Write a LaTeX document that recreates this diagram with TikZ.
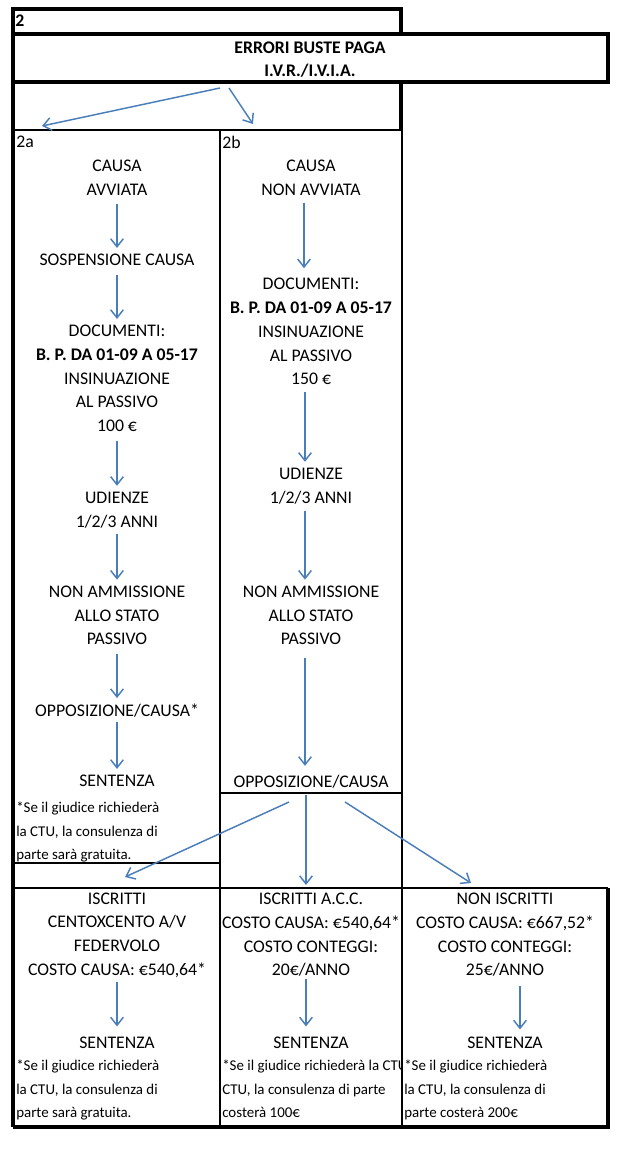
\documentclass[tikz,border=0pt]{standalone}
\usepackage{fontspec}
\setmainfont{Carlito}
\usetikzlibrary{arrows.meta}

\definecolor{flowblue}{HTML}{4A7EBB}

\tikzset{
  cell/.style={align=center, inner sep=0pt, font=\fontsize{13.3}{17.8}\selectfont},
  headcell/.style={cell, font=\fontsize{13.3}{17.6}\selectfont\bfseries},
  note/.style={align=left, anchor=north west, inner sep=0pt, font=\fontsize{11.2}{17.6}\selectfont},
  flow/.style={draw=flowblue, line width=1.1pt, -{Straight Barb[length=6pt,width=9.5pt]},
    shorten <=6.5pt, shorten >=4.5pt},
  gap/.style 2 args={shorten <=#1pt, shorten >=#2pt},
  heavy/.style={line width=3pt},
  medium/.style={line width=1.6pt},
  light/.style={line width=1pt},
}

\begin{document}
\begin{tikzpicture}[x=0.75pt,y=-0.75pt]
\useasboundingbox (0,0) rectangle (627,1149);

% table lines
\draw[heavy] (13,9) rectangle (401,34);
\draw[heavy] (13,34) rectangle (608,82);
\draw[heavy] (13,82) -- (13,1127) (401,82) -- (401,130);
\draw[medium] (13,130) -- (402,130);
\draw[light] (220,130) -- (220,1127) (402,130) -- (402,1127);
\draw[light] (220,793) -- (402,793) (13,863) -- (220,863);
\draw[medium] (13,888) -- (608,888);
\draw[heavy] (608,888) -- (608,1127) -- (13,1127);

% header
\node[headcell, anchor=west] (num) at (15,21) {2};
\node[headcell] (title) at (310,59.5) {ERRORI BUSTE PAGA\\I.V.R./I.V.I.A.};
\node[cell, anchor=west] (lab2a) at (16,142) {2a};
\node[cell, anchor=west] (lab2b) at (222,142) {2b};

% column 2a
\node[cell] (a1) at (117,177.75) {CAUSA\\AVVIATA};
\node[cell] (a2) at (117,260) {SOSPENSIONE CAUSA};
\node[cell] (a3) at (117,378.5) {DOCUMENTI:\\\textbf{B. P. DA 01-09 A 05-17}\\INSINUAZIONE\\AL PASSIVO\\100 €};
\node[cell] (a4) at (117,510) {UDIENZE\\1/2/3 ANNI};
\node[cell] (a5) at (117,615.5) {NON AMMISSIONE\\ALLO STATO\\PASSIVO};
\node[cell] (a6) at (117,711) {OPPOSIZIONE/CAUSA*};
\node[cell] (a7) at (117,781) {SENTENZA};
\node[note] (a8) at (16,802) {*Se il giudice richiederà\\la CTU, la consulenza di\\parte sarà gratuita.};

% column 2b
\node[cell] (b1) at (311,177.75) {CAUSA\\NON AVVIATA};
\node[cell] (b2) at (311,331.75) {DOCUMENTI:\\\textbf{B. P. DA 01-09 A 05-17}\\INSINUAZIONE\\AL PASSIVO\\150 €};
\node[cell] (b3) at (311,486) {UDIENZE\\1/2/3 ANNI};
\node[cell] (b4) at (311,615.5) {NON AMMISSIONE\\ALLO STATO\\PASSIVO};
\node[cell] (b5) at (311,782) {OPPOSIZIONE/CAUSA};

% bottom row
\node[cell] (c1) at (117,935) {ISCRITTI\\CENTOXCENTO A/V\\FEDERVOLO\\COSTO CAUSA: €540,64*};
\node[cell] (c2) at (117,1042.5) {SENTENZA};
\node[note] (c3) at (16,1060) {*Se il giudice richiederà\\la CTU, la consulenza di\\parte sarà gratuita.};
\node[cell] (d1) at (311,935) {ISCRITTI A.C.C.\\COSTO CAUSA: €540,64*\\COSTO CONTEGGI:\\20€/ANNO};
\node[cell] (d2) at (311,1042.5) {SENTENZA};
\begin{scope}
  \clip (221,1050) rectangle (401.5,1125);
  \node[note] (d3) at (222,1060) {*Se il giudice richiederà la CTU\\CTU, la consulenza di parte\\costerà 100€};
\end{scope}
\node[cell] (e1) at (505,935) {NON ISCRITTI\\COSTO CAUSA: €667,52*\\COSTO CONTEGGI:\\25€/ANNO};
\node[cell] (e2) at (505,1042.5) {SENTENZA};
\node[note] (e3) at (404,1060) {*Se il giudice richiederà\\la CTU, la consulenza di\\parte costerà 200€};

% fork ends
\coordinate (forkA) at (220,88);
\coordinate (forkB) at (229,88);
\coordinate (tipA) at (42,126);
\coordinate (tipB) at (253,124);
\coordinate (brA) at (289,802);
\coordinate (brB) at (306,795);
\coordinate (brC) at (345,802);
\coordinate (tipC) at (125,877);
\coordinate (tipD) at (306,885);
\coordinate (tipE) at (471,883);

% arrows
\draw[flow, gap={0}{0}] (forkA) -- (tipA);
\draw[flow, gap={0}{0}] (forkB) -- (tipB);

\draw[flow] (a1.south) -- (a2.north);
\draw[flow] (a2.south) -- (a3.north);
\draw[flow] (a3.south) -- (a4.north);
\draw[flow, gap={4}{4.5}] (a4.south) -- (a5.north);
\draw[flow] (a5.south) -- (a6.north);
\draw[flow, gap={3}{4.5}] (a6.south) -- (a7.north);

\draw[flow, gap={5.25}{7.5}] ([xshift=-5.25pt]b1.south) -- ([xshift=-5.25pt]b2.north);
\draw[flow, gap={5.25}{4.5}] ([xshift=-4.5pt]b2.south) -- ([xshift=-4.5pt]b3.north);
\draw[flow, gap={4.9}{4.5}] ([xshift=-4.5pt]b3.south) -- ([xshift=-4.5pt]b4.north);
\draw[flow, gap={9.75}{7}] ([xshift=-4.5pt]b4.south) -- ([xshift=-4.5pt]b5.north);

\draw[flow, gap={0}{0}] (brA) -- (tipC);
\draw[flow, gap={0}{0}] (brB) -- (tipD);
\draw[flow, gap={0}{0}] (brC) -- (tipE);

\draw[flow, gap={3}{7.5}] (c1.south) -- (c2.north);
\draw[flow, gap={1.5}{7.5}] ([xshift=-3.75pt]d1.south) -- ([xshift=-3.75pt]d2.north);
\draw[flow, gap={6.75}{5.25}] ([xshift=11.25pt]e1.south) -- ([xshift=11.25pt]e2.north);
\end{tikzpicture}
\end{document}
